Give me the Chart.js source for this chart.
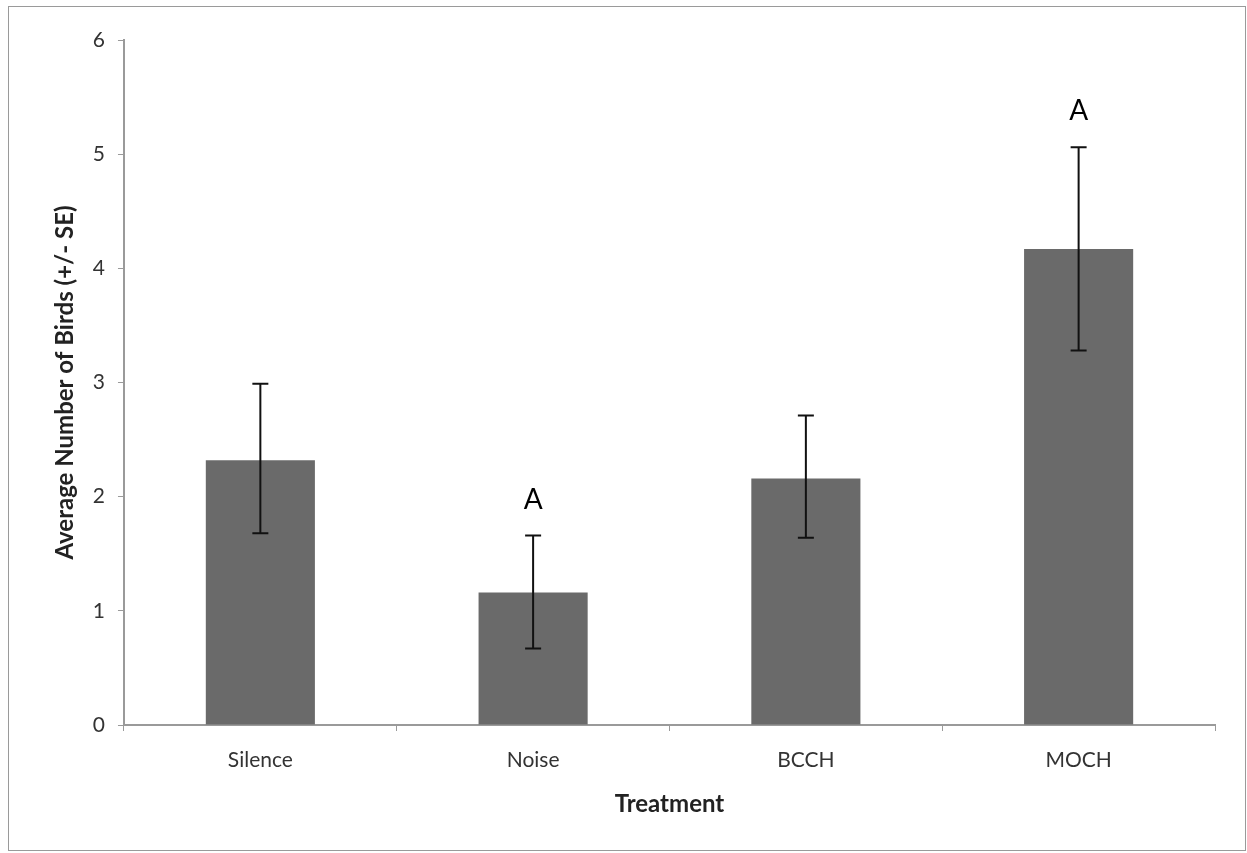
<!DOCTYPE html>
<html>
<head>
<meta charset="utf-8">
<script src="https://cdn.jsdelivr.net/npm/chart.js@4"></script>
<style>
  html, body { margin: 0; padding: 0; background: #fff; }
  #wrap {
    position: absolute; left: 8px; top: 6px; width: 1238px; height: 845px;
    border: 1px solid #9a9a9a; box-sizing: border-box;
  }
</style>
</head>
<body>
<div id="wrap"><canvas id="birds_chart"></canvas></div>
<script>
const treatments = ['Silence', 'Noise', 'BCCH', 'MOCH'];
const avgBirds = [2.32, 1.16, 2.16, 4.17];
const errHigh = [2.99, 1.66, 2.71, 5.06];
const errLow = [1.68, 0.67, 1.64, 3.28];
const letters = ['', 'A', '', 'A'];
const yTicks = [0, 1, 2, 3, 4, 5, 6];

// error bars + significance letters
const errorBars = {
  id: 'errorBars',
  afterDatasetsDraw(chart) {
    const ctx = chart.ctx;
    const meta = chart.getDatasetMeta(0);
    const y = chart.scales.y;
    ctx.save();
    ctx.strokeStyle = '#111';
    ctx.lineWidth = 2;
    meta.data.forEach((bar, i) => {
      const x = bar.x;
      const top = y.getPixelForValue(errHigh[i]);
      const bot = y.getPixelForValue(errLow[i]);
      ctx.beginPath();
      ctx.moveTo(x, top); ctx.lineTo(x, bot);
      ctx.moveTo(x - 8, top); ctx.lineTo(x + 8, top);
      ctx.moveTo(x - 8, bot); ctx.lineTo(x + 8, bot);
      ctx.stroke();
      if (letters[i]) {
        ctx.fillStyle = '#000';
        ctx.font = '28px Lato';
        ctx.textAlign = 'center';
        ctx.textBaseline = 'middle';
        ctx.fillText(letters[i], x, top - 36);
      }
    });
    ctx.restore();
  }
};

new Chart(document.getElementById('birds_chart'), {
  type: 'bar',
  data: {
    labels: treatments,
    datasets: [{
      data: avgBirds,
      backgroundColor: '#6a6a6a',
      borderWidth: 0,
      barPercentage: 0.8,
      categoryPercentage: 0.5
    }]
  },
  options: {
    responsive: true,
    maintainAspectRatio: false,
    animation: false,
    layout: { padding: { top: 33, right: 30, bottom: 31, left: 42 } },
    plugins: { legend: { display: false }, tooltip: { enabled: false } },
    scales: {
      x: {
        offset: true,
        grid: { offset: true, drawOnChartArea: false, drawTicks: true, tickLength: 6, color: '#9a9a9a' },
        border: { color: '#9a9a9a', width: 2 },
        ticks: { color: '#333', font: { family: 'Lato', size: 21 }, padding: 17 },
        title: { display: true, text: 'Treatment', color: '#222', font: { family: 'Lato', size: 24, weight: 'bold' }, padding: 0 }
      },
      y: {
        min: 0,
        max: 6,
        afterBuildTicks(axis) { axis.ticks = yTicks.map(v => ({ value: v })); },
        grid: { drawOnChartArea: false, drawTicks: true, tickLength: 6, color: '#9a9a9a' },
        border: { color: '#9a9a9a', width: 2 },
        ticks: { color: '#333', font: { family: 'Lato', size: 21 }, padding: 13 },
        title: { display: true, text: 'Average Number of Birds (+/- SE)', color: '#222', font: { family: 'Lato', size: 24, weight: 'bold' }, padding: 0 }
      }
    }
  },
  plugins: [errorBars]
});
</script>
</body>
</html>
